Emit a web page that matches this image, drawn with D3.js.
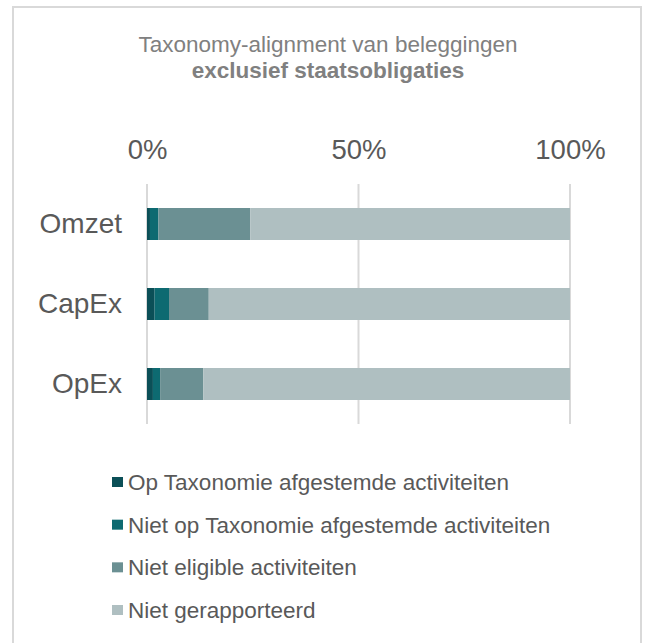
<!DOCTYPE html>
<html>
<head>
<meta charset="utf-8">
<script src="https://cdn.jsdelivr.net/npm/d3@7"></script>
<style>
  body { margin: 0; background: #fff; }
  text { font-family: "Liberation Sans", Arial, sans-serif; }
</style>
</head>
<body>
<script>
'use strict';
// chart data (percent of each row)
const categories = ["Omzet", "CapEx", "OpEx"];
const series = [
  "Op Taxonomie afgestemde activiteiten",
  "Niet op Taxonomie afgestemde activiteiten",
  "Niet eligible activiteiten",
  "Niet gerapporteerd"
];
const aligned = [0.7, 1.8, 1.4];
const notAligned = [2.0, 3.4, 1.7];
const notEligible = [21.7, 9.4, 10.2];
const notReported = [75.6, 85.4, 86.7];
const xTicks = [0, 50, 100];

const colors = ["#0b4f57", "#0d6a71", "#6b9093", "#afbfc1"];

(function () {
  const svg = d3.select("body").append("svg")
    .attr("width", 646)
    .attr("height", 643);

  // frame
  svg.append("rect")
    .attr("x", 13).attr("y", 7)
    .attr("width", 628).attr("height", 660)
    .attr("fill", "none")
    .attr("stroke", "#d9d9d9")
    .attr("stroke-width", 2);

  // title
  svg.append("text")
    .attr("x", 328).attr("y", 52)
    .attr("text-anchor", "middle")
    .style("font-size", "22.5px")
    .attr("fill", "#808080")
    .text("Taxonomy-alignment van beleggingen");
  svg.append("text")
    .attr("x", 328).attr("y", 78)
    .attr("text-anchor", "middle")
    .style("font-size", "22.5px")
    .style("font-weight", "bold")
    .attr("fill", "#808080")
    .text("exclusief staatsobligaties");

  const x = d3.scaleLinear().domain([0, 100]).range([147, 570]);
  const y = d3.scaleBand().domain(categories).range([184, 424]).paddingInner(0.6).paddingOuter(0.3);

  // gridlines
  svg.append("g").selectAll("line")
    .data(xTicks)
    .enter().append("line")
    .attr("x1", d => x(d)).attr("x2", d => x(d))
    .attr("y1", 184).attr("y2", 424)
    .attr("stroke", "#d9d9d9")
    .attr("stroke-width", 2);

  // top axis labels
  const xAxis = d3.axisTop(x).tickValues(xTicks).tickFormat(d => d + "%").tickSize(0).tickPadding(0);
  const gx = svg.append("g").attr("transform", "translate(0,159)").call(xAxis);
  gx.select(".domain").remove();
  gx.selectAll("text")
    .style("font-size", "27.5px")
    .style("font-family", "'Liberation Sans', Arial, sans-serif")
    .attr("fill", "#595959");

  // category labels
  const yAxis = d3.axisLeft(y).tickSize(0).tickPadding(0);
  const gy = svg.append("g").attr("transform", "translate(122,0)").call(yAxis);
  gy.select(".domain").remove();
  gy.selectAll("text")
    .style("font-size", "28px")
    .style("font-family", "'Liberation Sans', Arial, sans-serif")
    .attr("fill", "#595959");

  // stacked bars
  const rows = categories.map((c, i) => ({
    cat: c,
    s0: aligned[i], s1: notAligned[i], s2: notEligible[i], s3: notReported[i]
  }));
  const stack = d3.stack().keys(["s0", "s1", "s2", "s3"])(rows);

  svg.append("g").selectAll("g")
    .data(stack)
    .enter().append("g")
    .attr("fill", (d, i) => colors[i])
    .selectAll("rect")
    .data(d => d)
    .enter().append("rect")
    .attr("x", d => x(d[0]))
    .attr("width", d => x(Math.min(d[1], 100)) - x(d[0]))
    .attr("y", d => y(d.data.cat))
    .attr("height", y.bandwidth());

  // legend
  const legendY = d3.scalePoint().domain(series).range([482, 610]);
  const lg = svg.append("g").selectAll("g")
    .data(series)
    .enter().append("g")
    .attr("transform", d => "translate(112," + legendY(d) + ")");
  lg.append("rect")
    .attr("x", 0).attr("y", -5)
    .attr("width", 11).attr("height", 10)
    .attr("fill", (d, i) => colors[i]);
  lg.append("text")
    .attr("x", 16).attr("y", 0)
    .attr("dy", "0.35em")
    .style("font-size", "22.5px")
    .attr("fill", "#595959")
    .text(d => d);
})();
</script>
</body>
</html>
